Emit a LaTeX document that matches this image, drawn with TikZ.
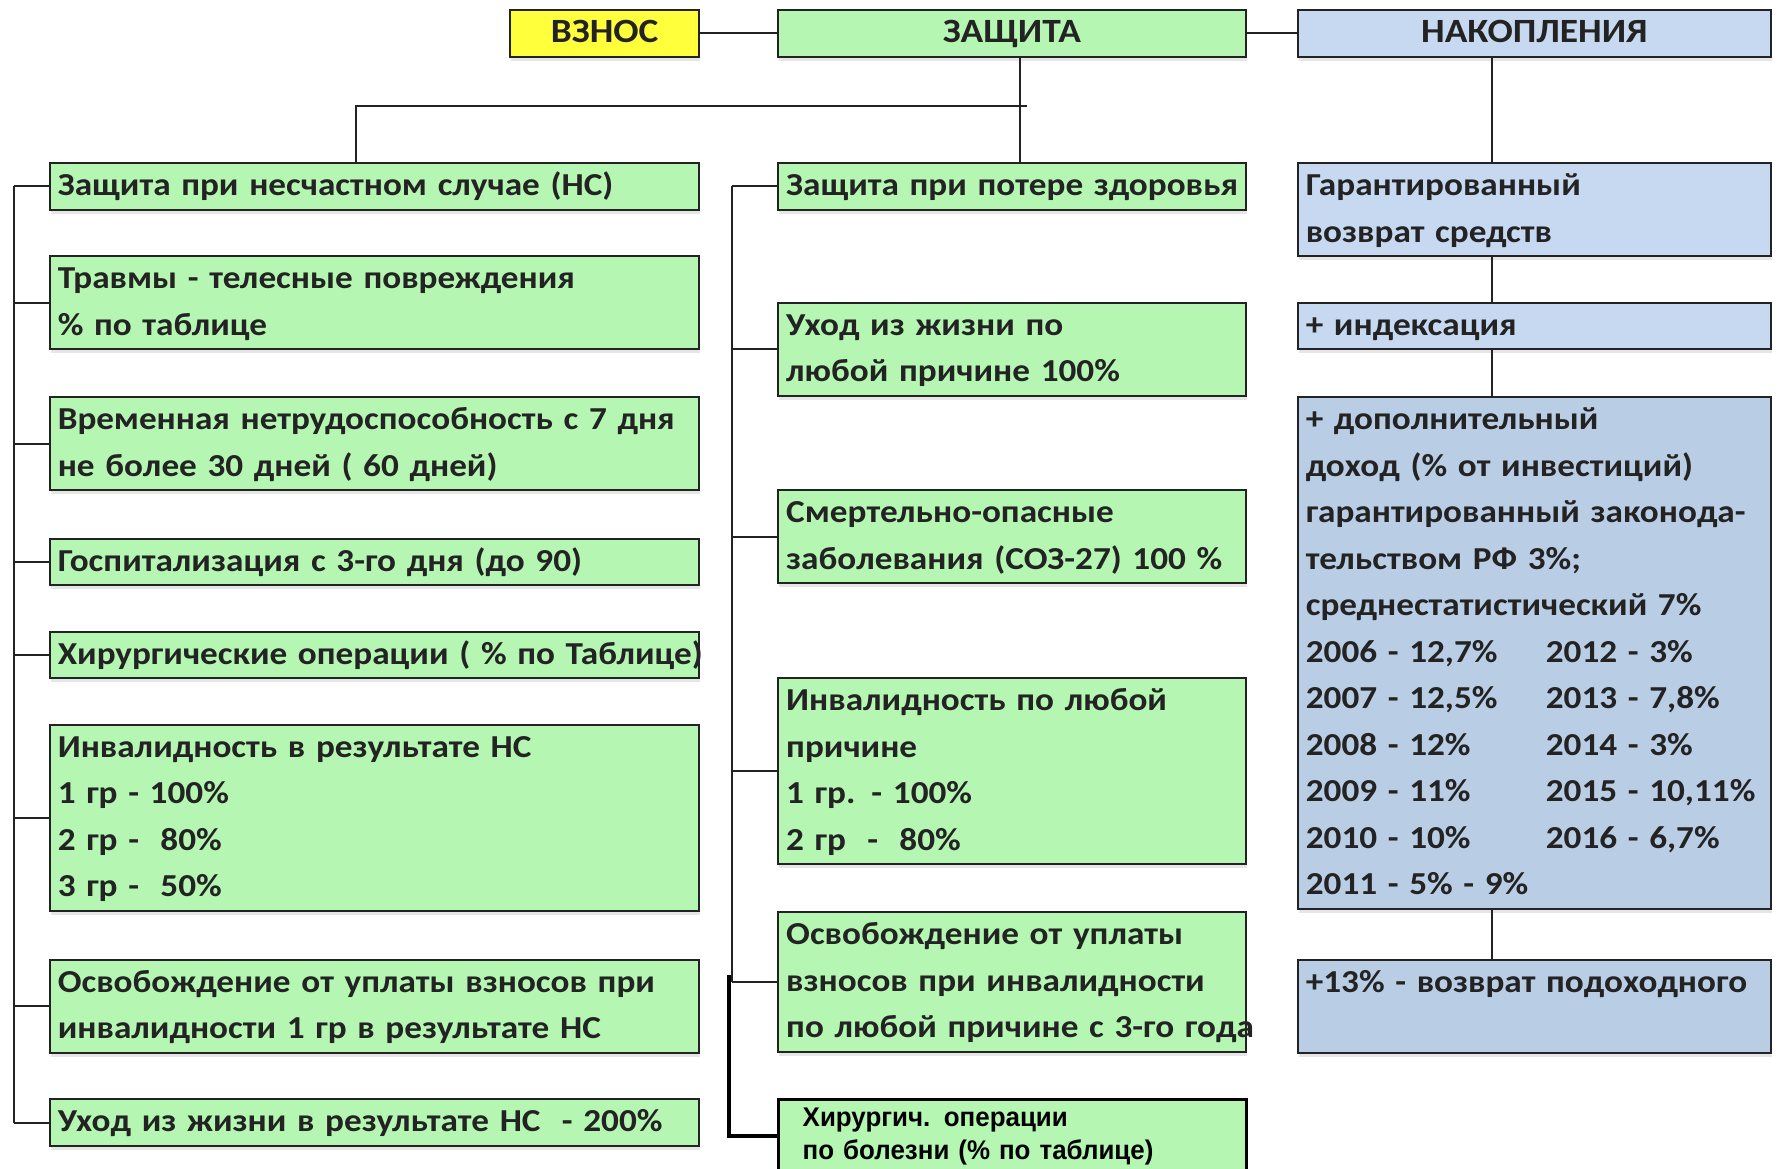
\documentclass[tikz,border=0pt]{standalone}
\usepackage{fontspec}
\setmainfont{Carlito}[FakeStretch=1.1]
\newfontfamily\narrowfont[FakeStretch=0.96]{Liberation Sans}
\usetikzlibrary{positioning}
\usetikzlibrary{shadows}
\definecolor{boxgreen}{RGB}{180,246,178}
\definecolor{boxyellow}{RGB}{255,255,60}
\definecolor{boxblue}{RGB}{198,217,240}
\definecolor{boxbluedark}{RGB}{185,205,229}
\definecolor{inkgray}{RGB}{35,35,35}

\begin{document}
\begin{tikzpicture}[
    x=1pt, y=-1pt,
    box/.style={
        draw=inkgray, line width=2pt, anchor=north west,
        inner xsep=8pt, inner ysep=0pt, align=left, text=inkgray,
        font=\fontsize{32}{46.5}\selectfont\bfseries,
        execute at begin node=\strut, execute at end node=\strut,
        drop shadow={opacity=0.2, shadow xshift=1pt, shadow yshift=-4pt}
    },
    rows/.style={minimum height=#1*46.5pt},
    leftbox/.style={box, fill=boxgreen, text width=633pt},
    midbox/.style={box, fill=boxgreen, text width=451.4pt},
    rightbox/.style={box, fill=boxblue, text width=457.2pt},
    headbox/.style={box, align=center, rows=1, font=\fontsize{34}{46.5}\selectfont\bfseries},
    link/.style={draw=inkgray, line width=2pt}
]
\useasboundingbox (0,0) rectangle (1779,1168);

% top row
\node[headbox, fill=boxyellow, text width=172.4pt] (vznos) at (509.4,9.1) {ВЗНОС};
\node[headbox, fill=boxgreen, text width=451.4pt] (zash) at (777.2,9.1) {ЗАЩИТА};
\node[headbox, fill=boxblue, text width=457.2pt] (nak) at (1296.8,9.1) {НАКОПЛЕНИЯ};

% left column
\node[leftbox, rows=1] (l1) at (48.8,162.2) {Защита при несчастном случае (НС)};
\node[leftbox, rows=2] (l2) at (48.8,255.3) {Травмы - телесные повреждения\\\% по таблице};
\node[leftbox, rows=2] (l3) at (48.8,396) {\mbox{Временная нетрудоспособность с 7 дня}\\не более 30 дней ( 60 дней)};
\node[leftbox, rows=1] (l4) at (48.8,537.8) {Госпитализация с 3-го дня (до 90)};
\node[leftbox, rows=1] (l5) at (48.8,630.8) {\mbox{Хирургические операции ( \% по Таблице)}};
\node[leftbox, rows=4] (l6) at (48.8,723.9) {Инвалидность в результате НС\\1 гр - 100\%\\2 гр - \ 80\%\\3 гр - \ 50\%};
\node[leftbox, rows=2] (l7) at (48.8,958.7) {Освобождение от уплаты взносов при\\инвалидности 1 гр в результате НС};
\node[leftbox, rows=1] (l8) at (48.8,1098.3) {Уход из жизни в результате НС \ - 200\%};

% middle column
\node[midbox, rows=1] (m1) at (777.2,162.2) {\mbox{Защита при потере здоровья}};
\node[midbox, rows=2] (m2) at (777.2,301.8) {Уход из жизни по\\любой причине 100\%};
\node[midbox, rows=2] (m3) at (777.2,489) {Смертельно-опасные\\\mbox{заболевания (СОЗ-27) 100 \%}};
\node[midbox, rows=4] (m4) at (777.2,677.4) {Инвалидность по любой\\причине\\1 гр. - 100\%\\2 гр \ - \ 80\%};
\node[midbox, rows=3] (m5) at (777.2,911) {Освобождение от уплаты\\\mbox{взносов при инвалидности}\\\mbox{по любой причине с 3-го года}};
\node[midbox, inner xsep=24pt, text width=419.4pt, minimum height=73pt,
      line width=3pt, draw=black, text=black,
      font=\fontsize{27}{33}\selectfont\narrowfont\bfseries] (m6) at (777.2,1098.3)
      {Хирургич. операции\\по болезни (\% по таблице)};

% right column
\node[rightbox, rows=2] (r1) at (1296.8,162.2) {Гарантированный\\возврат средств};
\node[rightbox, rows=1] (r2) at (1296.8,301.8) {+ индексация};
\node[rightbox, rows=11, fill=boxbluedark] (r3) at (1296.8,396) {+ дополнительный\\
доход (\% от инвестиций)\\
\mbox{гарантированный законода-}\\
тельством РФ 3\%;\\
среднестатистический 7\%\\
\makebox[240pt][l]{2006 - 12,7\%}2012 - 3\%\\
\makebox[240pt][l]{2007 - 12,5\%}2013 - 7,8\%\\
\makebox[240pt][l]{2008 - 12\%}2014 - 3\%\\
\makebox[240pt][l]{2009 - 11\%}2015 - 10,11\%\\
\makebox[240pt][l]{2010 - 10\%}2016 - 6,7\%\\
2011 - 5\% - 9\%};
\node[rightbox, rows=2, fill=boxbluedark] (r4) at (1296.8,958.7) {+13\% - возврат подоходного\\~};

% links
\coordinate (zx) at (1020,0);
\coordinate (lx) at (356.3,105.5);
\coordinate (hend) at (1026.8,105.5);
\coordinate (rx) at (1492,0);
\coordinate (lbus) at (13.6,0);
\coordinate (mbus) at (731.8,0);
\coordinate (mthick) at (728.6,975);

\draw[link] (vznos.east) -- (zash.west);
\draw[link] (zash.east) -- (nak.west);
\draw[link] (zash.south -| zx) -- (m1.north -| zx);
\draw[link] (hend) -- (lx) -- (l1.north -| lx);
\draw[link] (nak.south -| rx) -- (r1.north -| rx);
\draw[link] (r1.south -| rx) -- (r2.north -| rx);
\draw[link] (r2.south -| rx) -- (r3.north -| rx);
\draw[link] (r3.south -| rx) -- (r4.north -| rx);

\foreach \n in {l1,l2,l3,l4,l5,l6,l7,l8}
    \draw[link] (\n.west) -- (\n.west -| lbus);
\draw[link] (l1.west -| lbus) -- (l8.west -| lbus);

\foreach \n in {m1,m2,m3,m4,m5}
    \draw[link] (\n.west) -- (\n.west -| mbus);
\draw[link] (m1.west -| mbus) -- (m5.west -| mbus);
\draw[link, line width=4pt, draw=black] (mthick) |- (m6.west);

\end{tikzpicture}
\end{document}
